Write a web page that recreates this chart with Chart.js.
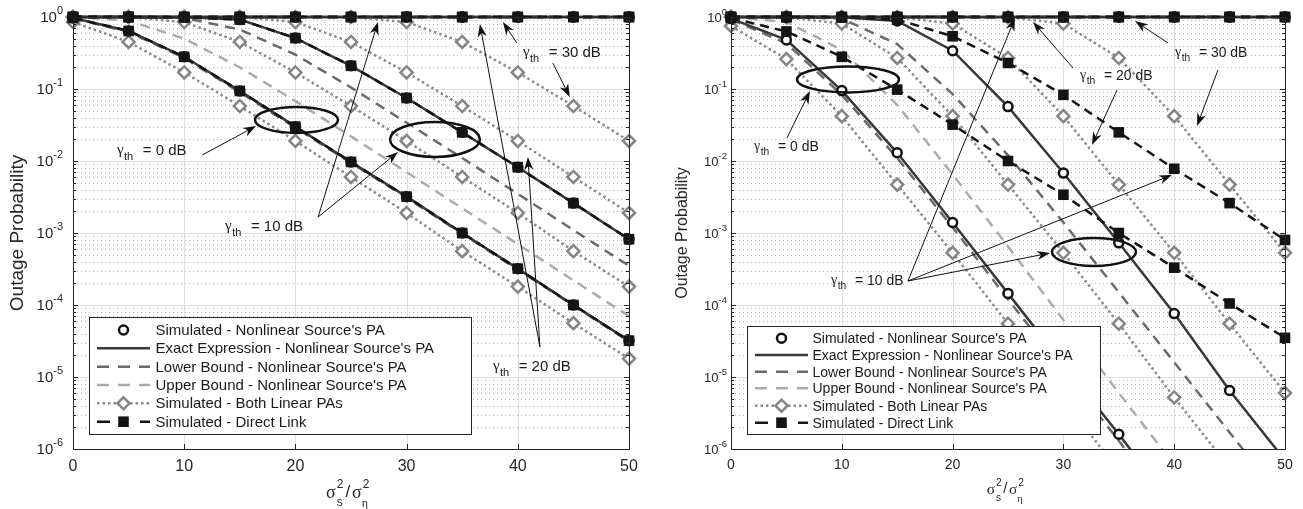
<!DOCTYPE html>
<html>
<head>
<meta charset="utf-8">
<script src="https://cdn.jsdelivr.net/npm/chart.js@4.4.1/dist/chart.umd.min.js"></script>
<style>
  body { margin: 0; background: #fff; width: 1303px; height: 509px; overflow: hidden; position: relative; }
  canvas { position: absolute; top: 0; }
</style>
</head>
<body>
<canvas id="left" width="651" height="509" style="left:0"></canvas>
<canvas id="right" width="652" height="509" style="left:651px"></canvas>
<script>
// ---- data ----
const snr = [0, 5, 10, 15, 20, 25, 30, 35, 40, 45, 50]
const xTickValues = [0, 10, 20, 30, 40, 50]
const yTickExponents = [0, -1, -2, -3, -4, -5, -6]
const thresholds = ["0", "10", "20", "30"]
const legendLabels = [
    "Simulated - Nonlinear Source's PA",
    "Exact Expression - Nonlinear Source's PA",
    "Lower Bound - Nonlinear Source's PA",
    "Upper Bound - Nonlinear Source's PA",
    "Simulated - Both Linear PAs",
    "Simulated - Direct Link"
]

// left panel
const leftFlat = [1, 1, 1, 1, 1, 1, 1, 1, 1, 1, 1]
const leftSim0 = [0.97, 0.64, 0.28, 0.094, 0.030, 0.0097, 0.0032, 0.0010, 3.2e-4, 1.0e-4, 3.2e-5]
const leftSim10 = [1, 1, 0.99, 0.92, 0.51, 0.21, 0.075, 0.025, 0.0082, 0.0026, 8.2e-4]
const leftExact0 = [0.97, 0.64, 0.28, 0.094, 0.030, 0.0097, 0.0032, 0.0010, 3.2e-4, 1.0e-4, 3.2e-5]
const leftExact10 = [1, 1, 0.99, 0.92, 0.51, 0.21, 0.075, 0.025, 0.0082, 0.0026, 8.2e-4]
const leftLower0 = [0.96, 0.62, 0.27, 0.090, 0.029, 0.0094, 0.0031, 9.7e-4, 3.1e-4, 9.8e-5, 3.1e-5]
const leftLower10 = [1, 1, 0.97, 0.67, 0.30, 0.105, 0.034, 0.011, 0.0035, 0.0011, 3.5e-4]
const leftUpper0 = [1, 0.89, 0.50, 0.20, 0.068, 0.022, 0.0070, 0.0022, 7.0e-4, 2.2e-4, 7.0e-5]
const leftLinear0 = [0.85, 0.45, 0.17, 0.058, 0.019, 0.006, 0.0019, 5.6e-4, 1.8e-4, 5.6e-5, 1.8e-5]
const leftLinear10 = [1, 1, 0.85, 0.45, 0.17, 0.058, 0.019, 0.006, 0.0019, 5.6e-4, 1.8e-4]
const leftLinear20 = [1, 1, 1, 1, 0.85, 0.45, 0.17, 0.058, 0.019, 0.006, 0.0019]
const leftLinear30 = [1, 1, 1, 1, 1, 1, 0.85, 0.45, 0.17, 0.058, 0.019]
const leftDirect0 = [0.97, 0.64, 0.28, 0.094, 0.030, 0.0097, 0.0032, 0.0010, 3.2e-4, 1.0e-4, 3.2e-5]
const leftDirect10 = [1, 1, 0.99, 0.92, 0.51, 0.21, 0.075, 0.025, 0.0082, 0.0026, 8.2e-4]

// right panel
const rightFlat = [1, 1, 1, 1, 1, 1, 1, 1, 1, 1, 1]
const rightSim0 = [0.95, 0.48, 0.095, 0.013, 1.4e-3, 1.45e-4, 1.5e-5, 1.6e-6, 1.6e-7, 1.6e-8, 1.6e-9]
const rightSim10 = [1, 1, 0.99, 0.88, 0.34, 0.057, 6.8e-3, 7.3e-4, 7.6e-5, 6.5e-6, 7.0e-7]
const rightExact0 = [0.95, 0.48, 0.095, 0.013, 1.4e-3, 1.45e-4, 1.5e-5, 1.6e-6, 1.6e-7, 1.6e-8, 1.6e-9]
const rightExact10 = [1, 1, 0.99, 0.88, 0.34, 0.057, 6.8e-3, 7.3e-4, 7.6e-5, 6.5e-6, 7.0e-7]
const rightLower0 = [0.93, 0.43, 0.083, 0.011, 1.2e-3, 1.2e-4, 1.25e-5, 1.3e-6, 1.3e-7, 1.3e-8, 1.3e-9]
const rightLower10 = [1, 1, 0.95, 0.42, 0.085, 0.012, 1.4e-3, 1.5e-4, 1.6e-5, 1.7e-6, 1.8e-7]
const rightUpper0 = [1, 0.85, 0.35, 0.06, 6.5e-3, 6.5e-4, 6.2e-5, 6.0e-6, 6.0e-7, 6.0e-8, 6.0e-9]
const rightLinear0 = [0.75, 0.26, 0.042, 4.7e-3, 5.3e-4, 5.5e-5, 4.8e-6, 5.0e-7, 5.0e-8, 5.0e-9, 5.0e-10]
const rightLinear10 = [1, 0.99, 0.81, 0.27, 0.042, 4.7e-3, 5.3e-4, 5.5e-5, 5.2e-6, 5.5e-7, 5.5e-8]
const rightLinear20 = [1, 1, 1, 0.99, 0.81, 0.27, 0.042, 4.7e-3, 5.3e-4, 5.5e-5, 6.0e-6]
const rightLinear30 = [1, 1, 1, 1, 1, 0.99, 0.81, 0.27, 0.042, 4.7e-3, 5.3e-4]
const rightDirect0 = [0.97, 0.63, 0.28, 0.098, 0.032, 0.010, 0.0034, 0.0010, 3.3e-4, 1.05e-4, 3.5e-5]
const rightDirect10 = [1, 1, 0.99, 0.92, 0.54, 0.23, 0.083, 0.025, 0.0078, 0.0026, 8.0e-4]

// ---- styles ----
const SANS = '"Liberation Sans", Arial, sans-serif'
const SERIF = '"Liberation Serif", "DejaVu Serif", serif'

const styles = {
    sim:    { order: 1, borderColor: "#111", showLine: false, pointStyle: "circle", pointRadius: 4.5, pointBorderWidth: 2.5, pointBorderColor: "#111", pointBackgroundColor: "#fff" },
    exact:  { order: 2, borderColor: "#383838", borderWidth: 2.5, pointRadius: 0 },
    lower:  { order: 4, borderColor: "#6a6a6a", borderWidth: 2.5, borderDash: [10, 7], pointRadius: 0 },
    upper:  { order: 5, borderColor: "#ababab", borderWidth: 2.5, borderDash: [10, 7], pointRadius: 0 },
    linear: { order: 3, borderColor: "#8a8a8a", borderWidth: 2.5, borderDash: [2.5, 3], pointStyle: "rectRot", pointRadius: 6, pointBorderWidth: 2.5, pointBorderColor: "#858585", pointBackgroundColor: "#fff" },
    direct: { order: 0, borderColor: "#141414", borderWidth: 2.5, borderDash: [9, 6], pointStyle: "rect", pointRadius: 7.5, pointBorderWidth: 0, pointBackgroundColor: "#141414" }
}
const legendKeys = ["sim", "exact", "lower", "upper", "linear", "direct"]
const legendDash = { exact: [], lower: [12, 9], upper: [12, 9], linear: [2.5, 3], direct: [13, 30] }

function series(key, values) {
    return Object.assign({
        data: snr.map((x, i) => ({ x: x, y: values[i] })),
        fill: false,
        tension: 0,
        borderWidth: 2.5,
        clip: { left: 10, top: 10, right: 10, bottom: 0 }
    }, styles[key])
}

// ---- drawing helpers ----
function pt(chart, x, logy) {
    return [chart.scales.x.getPixelForValue(x), chart.scales.y.getPixelForValue(Math.pow(10, logy))]
}

function drawMarker(ctx, key, x, y) {
    const s = styles[key]
    ctx.save()
    ctx.setLineDash([])
    if (key === "sim") {
        ctx.beginPath(); ctx.arc(x, y, s.pointRadius, 0, Math.PI * 2)
        ctx.fillStyle = "#fff"; ctx.fill()
        ctx.lineWidth = s.pointBorderWidth; ctx.strokeStyle = s.pointBorderColor; ctx.stroke()
    } else if (key === "linear") {
        const r = s.pointRadius
        ctx.beginPath(); ctx.moveTo(x, y - r); ctx.lineTo(x + r, y); ctx.lineTo(x, y + r); ctx.lineTo(x - r, y); ctx.closePath()
        ctx.fillStyle = "#fff"; ctx.fill()
        ctx.lineWidth = s.pointBorderWidth; ctx.strokeStyle = s.pointBorderColor; ctx.stroke()
    } else if (key === "direct") {
        const h = s.pointRadius * Math.SQRT1_2
        ctx.fillStyle = s.pointBackgroundColor; ctx.fillRect(x - h, y - h, 2 * h, 2 * h)
    }
    ctx.restore()
}

function drawPow(ctx, xRight, y, exp, fs, fe) {
    const e = String(exp)
    ctx.font = fe + "px " + SANS
    const we = ctx.measureText(e).width
    ctx.font = fs + "px " + SANS
    const wb = ctx.measureText("10").width
    ctx.textAlign = "left"; ctx.textBaseline = "middle"
    ctx.fillText("10", xRight - we - wb, y)
    ctx.font = fe + "px " + SANS
    ctx.fillText(e, xRight - we, y - fs * 0.45)
}

function drawGamma(ctx, x, y, value, k) {
    ctx.textAlign = "left"; ctx.textBaseline = "middle"
    ctx.font = (15 * k) + "px " + SERIF
    ctx.fillText("\u03b3", x, y - 1 * k)
    const wg = ctx.measureText("\u03b3").width
    ctx.font = (11 * k) + "px " + SANS
    ctx.fillText("th", x + wg + 0.5, y + 6 * k)
    const wt = ctx.measureText("th").width
    ctx.font = (15 * k) + "px " + SANS
    ctx.fillText("= " + value + " dB", x + wg + wt + 10 * k, y)
}

function drawArrow(ctx, x0, y0, x1, y1) {
    const a = Math.atan2(y1 - y0, x1 - x0), L = 13, W = 4.6
    ctx.beginPath(); ctx.moveTo(x0, y0); ctx.lineTo(x1 - Math.cos(a) * 8, y1 - Math.sin(a) * 8); ctx.stroke()
    ctx.beginPath()
    ctx.moveTo(x1, y1)
    ctx.lineTo(x1 - L * Math.cos(a) + W * Math.sin(a), y1 - L * Math.sin(a) - W * Math.cos(a))
    ctx.lineTo(x1 - 0.7 * L * Math.cos(a), y1 - 0.7 * L * Math.sin(a))
    ctx.lineTo(x1 - L * Math.cos(a) - W * Math.sin(a), y1 - L * Math.sin(a) + W * Math.cos(a))
    ctx.closePath(); ctx.fill()
}

function drawXLabel(ctx, cx, cy, k) {
    ctx.textBaseline = "middle"; ctx.textAlign = "left"
    let x = cx - 25 * k
    const big = (18 * k) + "px " + SERIF, small = (12 * k) + "px " + SANS, smallSerif = (12 * k) + "px " + SERIF
    ctx.font = big; ctx.fillText("\u03c3", x, cy); x += ctx.measureText("\u03c3").width + 1
    ctx.font = small; ctx.fillText("2", x, cy - 8 * k); ctx.fillText("s", x, cy + 10 * k); x += ctx.measureText("2").width + 2 * k
    ctx.font = (17 * k) + "px " + SANS; ctx.fillText("/", x, cy - 1); x += ctx.measureText("/").width + 2 * k
    ctx.font = big; ctx.fillText("\u03c3", x, cy); x += ctx.measureText("\u03c3").width + 1
    ctx.font = small; ctx.fillText("2", x, cy - 8 * k)
    ctx.font = smallSerif; ctx.fillText("\u03b7", x - 1, cy + 11 * k)
}

function drawLegend(ctx, lg) {
    ctx.save()
    ctx.fillStyle = "#fff"; ctx.fillRect(lg.left, lg.top, lg.width, lg.height)
    ctx.strokeStyle = "#262626"; ctx.lineWidth = 1; ctx.setLineDash([])
    ctx.strokeRect(lg.left + 0.5, lg.top + 0.5, lg.width, lg.height)
    legendKeys.forEach((key, i) => {
        const y = lg.rows[i], s = styles[key]
        if (key !== "sim") {
            ctx.strokeStyle = s.borderColor; ctx.lineWidth = 2.5; ctx.lineCap = "butt"
            ctx.setLineDash(legendDash[key])
            ctx.beginPath(); ctx.moveTo(lg.s0, y); ctx.lineTo(lg.s1, y); ctx.stroke()
            ctx.setLineDash([])
        }
        drawMarker(ctx, key, (lg.s0 + lg.s1) / 2, y)
        ctx.fillStyle = "#1a1a1a"; ctx.font = lg.font + "px " + SANS
        ctx.textAlign = "left"; ctx.textBaseline = "middle"
        ctx.fillText(legendLabels[i], lg.textX, y + 1)
    })
    ctx.restore()
}

// ---- plugin: MATLAB-like axes, annotations and legend ----
const matlabAxes = {
    id: "matlabAxes",
    beforeDatasetsDraw(chart, args, o) {
        const { ctx, chartArea: a, scales: { x, y } } = chart
        ctx.save()
        ctx.lineWidth = 1
        ctx.strokeStyle = "rgba(60,60,60,0.35)"; ctx.setLineDash([1, 3])
        for (let e = -6; e < 0; e++) {
            for (let m = 2; m <= 9; m++) {
                const py = Math.round(y.getPixelForValue(m * Math.pow(10, e))) + 0.5
                ctx.beginPath(); ctx.moveTo(a.left, py); ctx.lineTo(a.right, py); ctx.stroke()
            }
        }
        ctx.setLineDash([]); ctx.strokeStyle = "#dedede"
        yTickExponents.forEach(e => {
            const py = Math.round(y.getPixelForValue(Math.pow(10, e))) + 0.5
            ctx.beginPath(); ctx.moveTo(a.left, py); ctx.lineTo(a.right, py); ctx.stroke()
        })
        xTickValues.forEach(v => {
            const px = Math.round(x.getPixelForValue(v)) + 0.5
            ctx.beginPath(); ctx.moveTo(px, a.top); ctx.lineTo(px, a.bottom); ctx.stroke()
        })
        ctx.restore()
    },
    afterDatasetsDraw(chart, args, o) {
        const { ctx, chartArea: a, scales: { x, y } } = chart
        ctx.save()
        // box and ticks
        ctx.strokeStyle = "#262626"; ctx.lineWidth = 1; ctx.setLineDash([])
        ctx.strokeRect(Math.round(a.left) + 0.5, Math.round(a.top) + 0.5, Math.round(a.right - a.left), Math.round(a.bottom - a.top))
        ctx.beginPath()
        xTickValues.forEach(v => {
            const px = Math.round(x.getPixelForValue(v)) + 0.5
            ctx.moveTo(px, a.bottom); ctx.lineTo(px, a.bottom - 5)
            ctx.moveTo(px, a.top); ctx.lineTo(px, a.top + 5)
        })
        for (let e = -6; e <= 0; e++) {
            for (let m = 1; m <= (e === 0 ? 1 : 9); m++) {
                const py = Math.round(y.getPixelForValue(m * Math.pow(10, e))) + 0.5, len = m === 1 ? 5 : 3
                ctx.moveTo(a.left, py); ctx.lineTo(a.left + len, py)
                ctx.moveTo(a.right, py); ctx.lineTo(a.right - len, py)
            }
        }
        ctx.stroke()
        // tick labels
        ctx.fillStyle = "#262626"
        ctx.font = o.tickFont + "px " + SANS; ctx.textAlign = "center"; ctx.textBaseline = "middle"
        xTickValues.forEach(v => ctx.fillText(String(v), x.getPixelForValue(v), a.bottom + o.tickFont + 2))
        yTickExponents.forEach(e => drawPow(ctx, a.left - o.yLabelGap, y.getPixelForValue(Math.pow(10, e)) + 1, e, o.powFont, o.expFont))
        // axis titles
        ctx.save()
        ctx.translate(o.yTitleX, (a.top + a.bottom) / 2)
        ctx.rotate(-Math.PI / 2)
        ctx.font = o.yTitleFont + "px " + SANS; ctx.textAlign = "center"; ctx.textBaseline = "middle"
        ctx.fillText("Outage Probability", 0, 0)
        ctx.restore()
        drawXLabel(ctx, (a.left + a.right) / 2, o.xTitleY, o.xTitleScale)
        // annotations
        ctx.fillStyle = "#111"; ctx.strokeStyle = "#111"
        ctx.lineWidth = 2.5
        o.ellipses.forEach(el => {
            const [cx, cy] = pt(chart, el[0], el[1])
            const rx = x.getPixelForValue(el[0] + el[2]) - cx
            const ry = y.getPixelForValue(Math.pow(10, el[1] - el[3])) - cy
            ctx.beginPath(); ctx.ellipse(cx, cy, rx, ry, 0, 0, Math.PI * 2); ctx.stroke()
        })
        ctx.lineWidth = 1
        o.arrows.forEach(ar => {
            const [x0, y0] = pt(chart, ar[0], ar[1]), [x1, y1] = pt(chart, ar[2], ar[3])
            drawArrow(ctx, x0, y0, x1, y1)
        })
        ctx.fillStyle = "#1a1a1a"
        o.labels.forEach(lb => {
            const [lx, ly] = pt(chart, lb[0], lb[1])
            drawGamma(ctx, lx, ly, thresholds[lb[2]], o.labelScale)
        })
        ctx.restore()
        drawLegend(ctx, o.legend)
    }
}

function makeChart(id, datasets, padding, axes) {
    new Chart(document.getElementById(id), {
        type: "line",
        data: { datasets: datasets },
        options: {
            responsive: false,
            animation: false,
            events: [],
            devicePixelRatio: 1,
            layout: { padding: padding },
            scales: {
                x: { type: "linear", min: 0, max: 50, display: false },
                y: { type: "logarithmic", min: 1e-6, max: 1, display: false }
            },
            plugins: {
                legend: { display: false },
                tooltip: { enabled: false },
                matlabAxes: axes
            }
        },
        plugins: [matlabAxes]
    })
}

makeChart("left", [
    series("direct", leftDirect0), series("direct", leftDirect10), series("direct", leftFlat), series("direct", leftFlat),
    series("sim", leftSim0), series("sim", leftSim10), series("sim", leftFlat), series("sim", leftFlat),
    series("exact", leftExact0), series("exact", leftExact10), series("exact", leftFlat), series("exact", leftFlat),
    series("linear", leftLinear0), series("linear", leftLinear10), series("linear", leftLinear20), series("linear", leftLinear30),
    series("lower", leftLower0), series("lower", leftLower10), series("lower", leftFlat), series("lower", leftFlat),
    series("upper", leftUpper0), series("upper", leftFlat), series("upper", leftFlat), series("upper", leftFlat)
], { left: 73, right: 22, top: 17, bottom: 60 }, {
    tickFont: 16, powFont: 15, expFont: 11, yLabelGap: 10, yTitleX: 18, yTitleFont: 19,
    xTitleY: 493, xTitleScale: 1,
    ellipses: [[20.1, -1.43, 3.73, 0.18], [32.55, -1.70, 4.04, 0.243]],
    arrows: [
        [11.62, -1.917, 16.47, -1.514],
        [22.04, -2.778, 27.43, -0.069], [22.04, -2.778, 29.23, -1.875],
        [41.99, -4.583, 36.59, -0.097], [41.99, -4.583, 40.91, -1.944],
        [39.92, -0.361, 38.66, -0.069], [43.15, -0.639, 44.68, -1.111]
    ],
    labels: [[3.95, -1.861, 0], [13.68, -2.917, 1], [37.76, -4.861, 2], [40.46, -0.5, 3]],
    labelScale: 1,
    legend: { left: 89, top: 317, width: 382, height: 117, rows: [330, 348.3, 366.7, 385, 403.3, 421.7], s0: 97, s1: 150, textX: 155.5, font: 15 }
})

makeChart("right", [
    series("direct", rightDirect0), series("direct", rightDirect10), series("direct", rightFlat), series("direct", rightFlat),
    series("sim", rightSim0), series("sim", rightSim10), series("sim", rightFlat), series("sim", rightFlat),
    series("exact", rightExact0), series("exact", rightExact10), series("exact", rightFlat), series("exact", rightFlat),
    series("linear", rightLinear0), series("linear", rightLinear10), series("linear", rightLinear20), series("linear", rightLinear30),
    series("lower", rightLower0), series("lower", rightLower10), series("lower", rightFlat), series("lower", rightFlat),
    series("upper", rightUpper0), series("upper", rightFlat), series("upper", rightFlat), series("upper", rightFlat)
], { left: 80, right: 18, top: 17, bottom: 60 }, {
    tickFont: 14, powFont: 13, expFont: 9.5, yLabelGap: 4, yTitleX: 32, yTitleFont: 16,
    xTitleY: 490, xTitleScale: 0.85,
    ellipses: [[10.56, -0.868, 4.6, 0.18], [32.76, -3.264, 3.79, 0.194]],
    arrows: [
        [5.05, -1.681, 7.13, -1.028],
        [15.97, -3.667, 25.63, -0.014], [15.97, -3.667, 39.8, -2.194], [15.97, -3.667, 28.79, -3.278],
        [30.87, -0.708, 27.26, -0.069], [34.84, -1.014, 32.58, -1.778],
        [39.44, -0.361, 36.46, -0.056], [43.95, -0.736, 42.06, -1.514]
    ],
    labels: [[2.08, -1.806, 0], [9.03, -3.667, 1], [31.5, -0.82, 2], [40.07, -0.5, 3]],
    labelScale: 0.93,
    legend: { left: 96, top: 326, width: 353, height: 108, rows: [338.3, 355, 371.7, 388.3, 405.7, 422.7], s0: 104, s1: 157, textX: 161.5, font: 14 }
})
</script>
</body>
</html>
